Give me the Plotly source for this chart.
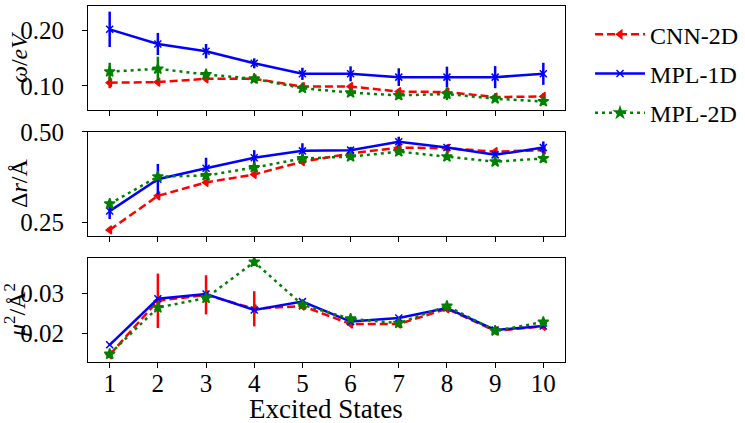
import plotly.graph_objects as go

states = [1, 2, 3, 4, 5, 6, 7, 8, 9, 10]
series_names = ["CNN-2D", "MPL-1D", "MPL-2D"]

omega_cnn = [0.106, 0.107, 0.113, 0.113, 0.099, 0.099, 0.090, 0.089, 0.080, 0.081]
omega_cnn_err = [0.010, 0.004, 0.005, 0.004, 0.005, 0.005, 0.004, 0.006, 0.005, 0.006]
omega_mpl1 = [0.2025, 0.176, 0.163, 0.141, 0.122, 0.122, 0.116, 0.116, 0.116, 0.122]
omega_mpl1_err = [0.032, 0.020, 0.013, 0.009, 0.011, 0.0135, 0.016, 0.019, 0.020, 0.020]
omega_mpl2 = [0.126, 0.131, 0.121, 0.113, 0.096, 0.088, 0.083, 0.0855, 0.077, 0.072]
omega_mpl2_err = [0.016, 0.022, 0.004, 0.005, 0.005, 0.006, 0.005, 0.011, 0.006, 0.006]

dr_cnn = [0.230, 0.324, 0.361, 0.383, 0.418, 0.441, 0.457, 0.455, 0.446, 0.450]
dr_cnn_err = [0.004, 0.005, 0.005, 0.005, 0.005, 0.004, 0.005, 0.004, 0.006, 0.006]
dr_mpl1 = [0.282, 0.370, 0.400, 0.429, 0.448, 0.450, 0.473, 0.457, 0.437, 0.457]
dr_mpl1_err = [0.022, 0.042, 0.029, 0.021, 0.021, 0.009, 0.014, 0.008, 0.010, 0.017]
dr_mpl2 = [0.302, 0.377, 0.380, 0.402, 0.427, 0.432, 0.446, 0.432, 0.418, 0.427]
dr_mpl2_err = [0.006, 0.006, 0.005, 0.006, 0.005, 0.005, 0.006, 0.004, 0.005, 0.005]

mu_cnn = [0.0146, 0.0281, 0.0296, 0.0261, 0.0268, 0.0223, 0.0223, 0.0261, 0.0206, 0.0217]
mu_cnn_err = [0.0004, 0.0068, 0.0049, 0.0044, 0.0004, 0.0004, 0.0004, 0.0004, 0.0004, 0.0004]
mu_mpl1 = [0.0171, 0.0286, 0.0298, 0.0258, 0.0279, 0.0229, 0.0238, 0.0263, 0.0208, 0.0218]
mu_mpl1_err = [0.0003, 0.0003, 0.0003, 0.0003, 0.0003, 0.0003, 0.0003, 0.0003, 0.0003, 0.0003]
mu_mpl2 = [0.0148, 0.0264, 0.0288, 0.0378, 0.0271, 0.0236, 0.0225, 0.0268, 0.0206, 0.0228]
mu_mpl2_err = [0.0003, 0.0003, 0.0003, 0.0003, 0.0003, 0.0003, 0.0003, 0.0003, 0.0003, 0.0003]

y_titles = ["<i>ω</i>/<i>eV</i>", "Δ<i>r</i>/Å", "<i>μ</i><sup>2</sup>/Å<sup>2</sup>"]
x_title = "Excited States"

FONT = "Liberation Serif"
colors = ["#ff0000", "#0000ff", "#008000"]
dashes = ["8px,4px", "solid", "3px,4px"]
symbols = ["triangle-left", "x-thin", "star"]
msizes = [7, 7, 8]

panels = [
    ("y", [omega_cnn, omega_mpl1, omega_mpl2], [omega_cnn_err, omega_mpl1_err, omega_mpl2_err]),
    ("y2", [dr_cnn, dr_mpl1, dr_mpl2], [dr_cnn_err, dr_mpl1_err, dr_mpl2_err]),
    ("y3", [mu_cnn, mu_mpl1, mu_mpl2], [mu_cnn_err, mu_mpl1_err, mu_mpl2_err]),
]
xaxes = ["x", "x2", "x3"]

fig = go.Figure()
for p, (yax, vals, errs) in enumerate(panels):
    for i in range(3):
        fig.add_trace(go.Scatter(
            x=states, y=vals[i], xaxis=xaxes[p], yaxis=yax,
            mode="lines+markers", name=series_names[i],
            legendgroup=series_names[i], showlegend=(p == 0),
            line=dict(color=colors[i], width=2.5, dash=dashes[i]),
            marker=dict(symbol=symbols[i], size=msizes[i], color=colors[i],
                        line=dict(color=colors[i], width=1.5)),
            error_y=dict(type="data", array=errs[i], color=colors[i], thickness=2.5, width=0),
        ))

axis_common = dict(showgrid=False, zeroline=False, showline=True, linecolor="black",
                   linewidth=1, mirror=True, ticks="outside", ticklen=5, tickwidth=1,
                   tickcolor="black", automargin=False,
                   tickfont=dict(family=FONT, size=25, color="black"))

ydoms = [[0.7079, 1.0], [0.3539, 0.6461], [0.0, 0.2921]]
title_y = [1 - (58 - 6) / 356, 1 - (184 - 6) / 356, 1 - (310 - 6) / 356]
title_x = [19, 19, 15]

fig.update_layout(
    width=745, height=423,
    margin=dict(l=88, r=180, t=6, b=61),
    plot_bgcolor="white", paper_bgcolor="white",
    font=dict(family=FONT, color="black"),
    showlegend=True,
    legend=dict(xref="container", yref="container", x=0.792, y=0.971,
                xanchor="left", yanchor="top",
                font=dict(family=FONT, size=24, color="black"),
                tracegroupgap=5, itemwidth=50, bgcolor="rgba(0,0,0,0)"),
    xaxis=dict(axis_common, domain=[0, 1], range=[0.55, 10.45], anchor="y",
               tickvals=states, showticklabels=False),
    xaxis2=dict(axis_common, domain=[0, 1], range=[0.55, 10.45], anchor="y2",
                tickvals=states, showticklabels=False),
    xaxis3=dict(axis_common, domain=[0, 1], range=[0.55, 10.45], anchor="y3",
                tickvals=states, ticktext=[str(s) for s in states], ticklabelstandoff=-6),
    yaxis=dict(axis_common, domain=ydoms[0], range=[0.0566, 0.2447], anchor="x",
               tickvals=[0.10, 0.20], ticktext=["0.10", "0.20"], ticklabelstandoff=13),
    yaxis2=dict(axis_common, domain=ydoms[1], range=[0.2133, 0.5], anchor="x2",
                tickvals=[0.25, 0.50], ticktext=["0.25", "0.50"], ticklabelstandoff=13),
    yaxis3=dict(axis_common, domain=ydoms[2], range=[0.0128, 0.0388], anchor="x3",
                tickvals=[0.02, 0.03], ticktext=["0.02", "0.03"], ticklabelstandoff=13),
)

for k, t in enumerate(y_titles):
    fig.add_annotation(text=t, xref="paper", yref="paper", x=-(88 - title_x[k]) / 477, y=title_y[k],
                       xanchor="center", yanchor="middle", textangle=-90, showarrow=False,
                       font=dict(family=FONT, size=24, color="black"))

fig.add_annotation(text=x_title, xref="paper", yref="paper", x=(326 - 88) / 477, y=-(409 - 362) / 356,
                   xanchor="center", yanchor="middle", showarrow=False,
                   font=dict(family=FONT, size=27, color="black"))

fig.write_html("out.html", config={"displayModeBar": False},
               post_script="document.body.style.margin='0';")
